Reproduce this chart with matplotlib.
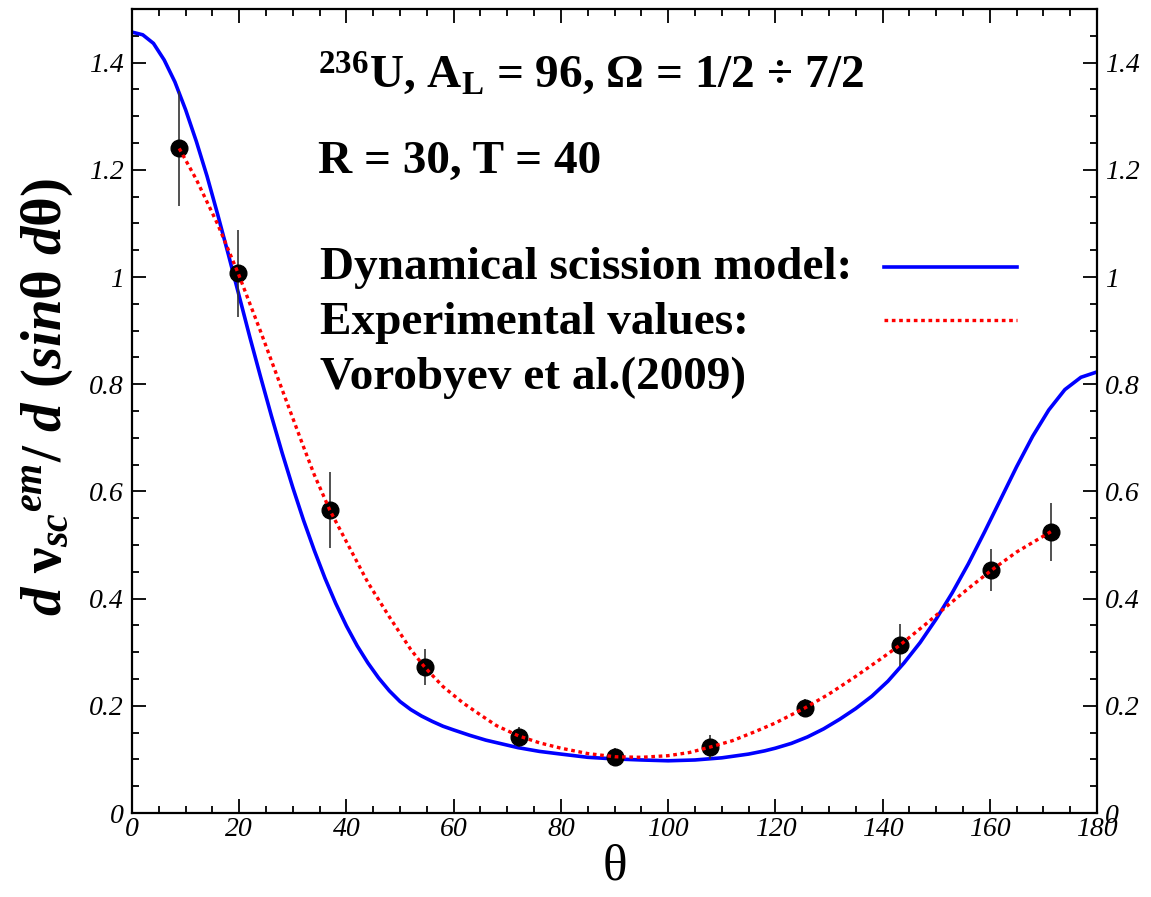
"""Angular distribution of scission neutrons: model vs. experiment."""

import matplotlib

matplotlib.use("Agg")
import matplotlib.pyplot as plt
import matplotlib.ticker as mticker

# Experimental values, Vorobyev et al. (2009)
exp_theta = [8.8, 19.8, 36.9, 54.6, 72.1, 90.1, 107.8, 125.5, 143.2, 160.3, 171.4]
exp_value = [1.240, 1.007, 0.565, 0.272, 0.142, 0.105, 0.123, 0.196, 0.313, 0.453, 0.525]
exp_error = [0.107, 0.081, 0.071, 0.034, 0.019, 0.017, 0.022, 0.017, 0.039, 0.039, 0.054]

# dotted guide drawn through the experimental points
guide_theta = [8.8, 12, 16, 19.8, 24, 28, 32, 34, 36.9, 40, 44, 48, 52, 54.6, 58, 61.8,
               65, 68, 72.1, 76, 80, 85, 90.1, 95, 100, 104, 107.8, 112, 116, 120, 125.5,
               130, 135, 140, 143.2, 148, 152, 156, 160.3, 165, 171.4]
guide_value = [1.240, 1.182, 1.098, 1.007, 0.898, 0.790, 0.683, 0.631, 0.565, 0.506, 0.430,
               0.366, 0.305, 0.272, 0.236, 0.205, 0.183, 0.163, 0.144, 0.131, 0.121, 0.111,
               0.105, 0.104, 0.107, 0.113, 0.123, 0.135, 0.151, 0.168, 0.196, 0.222, 0.255,
               0.290, 0.313, 0.352, 0.386, 0.419, 0.453, 0.487, 0.525]

# Dynamical scission model
model_theta = [0, 2, 4, 6, 8, 10, 12, 14, 16, 18, 20, 22, 24, 26, 28, 30, 32, 34, 36, 38,
               40, 42, 44, 46, 48, 50, 52, 54, 56, 58, 60, 63, 66, 69, 72, 76, 80, 85, 90,
               95, 100, 105, 110, 115, 118, 120, 123, 126, 129, 132, 135, 138, 141, 144,
               147, 150, 153, 156, 159, 162, 165, 168, 171, 174, 177, 180]
model_value = [1.457, 1.452, 1.436, 1.405, 1.364, 1.312, 1.253, 1.188, 1.116, 1.041, 0.964,
               0.887, 0.813, 0.741, 0.672, 0.607, 0.546, 0.490, 0.438, 0.391, 0.349, 0.312,
               0.280, 0.252, 0.228, 0.208, 0.193, 0.181, 0.171, 0.162, 0.155, 0.145, 0.136,
               0.129, 0.122, 0.115, 0.110, 0.104, 0.101, 0.099, 0.0975, 0.099, 0.103, 0.110,
               0.116, 0.121, 0.130, 0.142, 0.157, 0.175, 0.195, 0.218, 0.246, 0.280, 0.318,
               0.362, 0.411, 0.465, 0.524, 0.585, 0.646, 0.703, 0.752, 0.790, 0.813, 0.823]

plt.rcParams.update({
    "font.family": ["Liberation Serif", "DejaVu Serif"],
    "mathtext.fontset": "custom",
    "mathtext.rm": "Liberation Serif:bold",
    "mathtext.it": "Liberation Serif:italic:bold",
    "mathtext.bf": "Liberation Serif:bold",
})

fig = plt.figure(figsize=(11.51, 8.97), dpi=100)
ax = fig.add_axes([0.1147, 0.0936, 0.8384, 0.8963])

ax.plot(model_theta, model_value, color="#0000ff", lw=2.6, zorder=2)
ax.errorbar(exp_theta, exp_value, yerr=exp_error, fmt="none", ecolor="#333333",
            elinewidth=1.2, capsize=0, zorder=3)
ax.plot(exp_theta, exp_value, "o", color="black", ms=12, zorder=4)
ax.plot(guide_theta, guide_value, color="#ff0000", lw=2.4, linestyle=(0, (1.1, 1.1)), zorder=5)

ax.set_xlim(0, 180)
ax.set_ylim(0, 1.5)
ax.xaxis.set_major_locator(mticker.MultipleLocator(20))
ax.xaxis.set_minor_locator(mticker.MultipleLocator(5))
ax.yaxis.set_major_locator(mticker.FixedLocator([0, 0.2, 0.4, 0.6, 0.8, 1.0, 1.2, 1.4]))
ax.yaxis.set_minor_locator(mticker.MultipleLocator(0.05))
ax.yaxis.set_major_formatter(mticker.FuncFormatter(lambda v, _: f"{v:g}"))
ax.tick_params(which="both", direction="in", top=True, right=True,
               labelright=True, width=1.3, colors="black")
ax.tick_params(which="major", length=10, pad=6)
ax.tick_params(which="minor", length=5)
ax.tick_params(axis="x", pad=3, labelsize=20)
ax.tick_params(axis="y", labelsize=20)
for t in ax.xaxis.get_major_ticks() + ax.yaxis.get_major_ticks():
    t.label1.set_fontstyle("italic")
    t.label2.set_fontstyle("italic")
for side in ax.spines.values():
    side.set_linewidth(1.6)

ax.set_xlabel("θ", fontsize=37, labelpad=1)
ax.set_ylabel(r"$d\ \mathrm{\nu}_{sc}{}^{em}/\ d\ (sin\mathrm{\theta}\ d\mathrm{\theta})$",
              fontsize=41, va="center")
ax.yaxis.set_label_coords(-0.088, 0.517)

txt = dict(transform=ax.transAxes, fontsize=34, fontweight="bold", va="baseline", ha="left")
ax.text(0.193, 0.902, r"$^{236}$U, A$_{\mathrm{L}}$ = 96, Ω = 1/2 ÷ 7/2", **txt)
ax.text(0.193, 0.796, "R = 30, T = 40", **txt)
ax.text(0.195, 0.664, "Dynamical scission model:", **txt)
ax.text(0.195, 0.596, "Experimental values:", **txt)
ax.text(0.195, 0.528, "Vorobyev et al.(2009)", **txt)

# legend keys
ax.plot([0.779, 0.917], [0.679, 0.679], transform=ax.transAxes, color="#0000ff", lw=2.6)
ax.plot([0.779, 0.917], [0.613, 0.613], transform=ax.transAxes, color="#ff0000",
        lw=2.4, linestyle=(0, (1.1, 1.1)))

fig.savefig("out.png", dpi=100)
